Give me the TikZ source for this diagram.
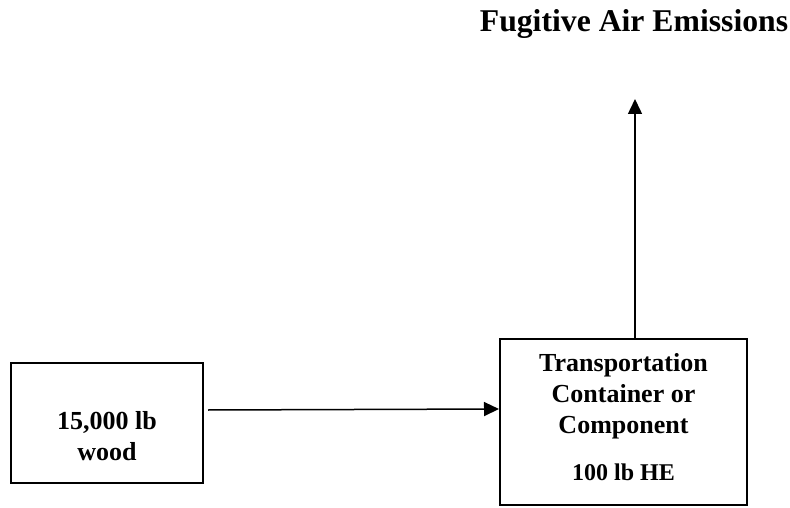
\documentclass[tikz,border=0pt]{standalone}
\usepackage{fontspec}
\setmainfont{Liberation Serif}
\usetikzlibrary{arrows.meta,calc}
\begin{document}
\begin{tikzpicture}[x=1pt,y=-1pt,
  flowbox/.style={draw,line width=2pt,rectangle,inner sep=0pt},
  boxtext/.style={align=center,font=\bfseries\fontsize{26}{31}\selectfont,inner sep=0pt},
  flow/.style={line width=1.5pt,-{Triangle[length=15pt,width=14pt]}}]
  \useasboundingbox (0,0) rectangle (790,508);

  % source box
  \node[flowbox,minimum width=192pt,minimum height=120pt] (wood) at (107,423) {};
  \node[boxtext] (woodtxt) at (107,436) {15,000 lb\\wood};

  % process box
  \node[flowbox,minimum width=247pt,minimum height=166pt] (cont) at (623.5,422) {};
  \node[boxtext] (conttxt) at (623.5,396) {Transportation\\Container or\\Component};
  \node[boxtext,font=\bfseries\fontsize{24}{29}\selectfont] (he) at (623.5,472) {100 lb HE};

  % emissions label
  \node[anchor=base,inner sep=0pt,font=\bfseries\fontsize{31.7}{36}\selectfont] (fug) at (634,32) {Fugitive Air Emissions};
  \coordinate (emis) at (635,99);

  % flows
  \draw[flow] ([xshift=4pt,yshift=13pt]wood.east) -- ([yshift=13pt]cont.west);
  \draw[flow] ([xshift=11.5pt]cont.north) -- (emis);
\end{tikzpicture}
\end{document}
